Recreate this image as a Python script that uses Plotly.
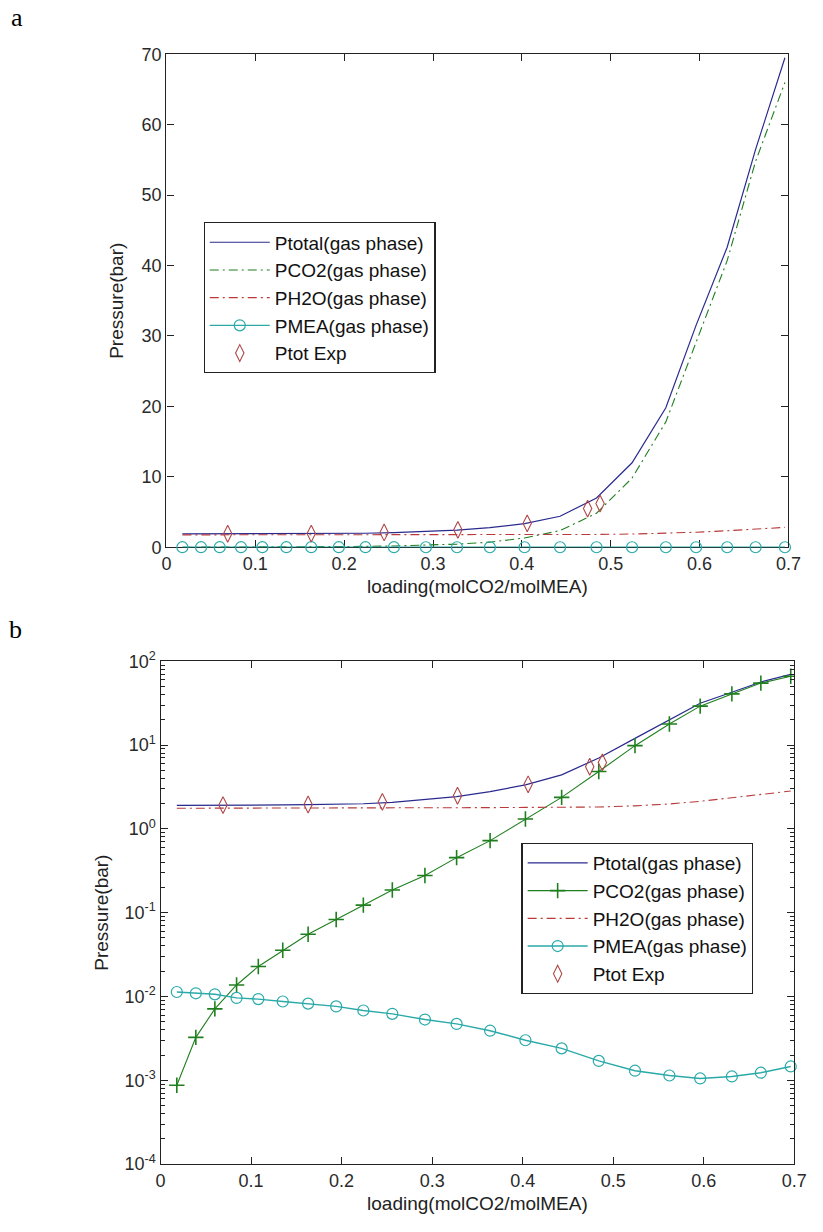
import plotly.graph_objects as go

# CO2 loading (mol CO2 / mol MEA) at which the model was evaluated
loading = [0.018, 0.039, 0.060, 0.084, 0.108, 0.135, 0.163, 0.194, 0.224, 0.256, 0.292,
           0.327, 0.364, 0.403, 0.443, 0.484, 0.524, 0.562, 0.596, 0.631, 0.663, 0.696]

# Model partial / total pressures (bar)
p_total = [1.90, 1.90, 1.91, 1.91, 1.92, 1.93, 1.94, 1.96, 1.99, 2.07, 2.22,
           2.42, 2.78, 3.35, 4.40, 7.00, 12.0, 19.8, 31.5, 42.6, 56.5, 69.5]
p_co2 = [0.00087, 0.00325, 0.0071, 0.0137, 0.0228, 0.0356, 0.0552, 0.0828, 0.123, 0.186, 0.277,
         0.453, 0.723, 1.31, 2.37, 4.83, 9.82, 17.8, 29.1, 40.7, 54.8, 66.0]
p_h2o = [1.76, 1.76, 1.76, 1.76, 1.76, 1.77, 1.77, 1.77, 1.78, 1.78, 1.78,
         1.79, 1.79, 1.80, 1.80, 1.82, 1.88, 1.98, 2.13, 2.35, 2.58, 2.82]
p_mea = [0.0113, 0.0109, 0.0106, 0.0096, 0.0093, 0.0087, 0.0082, 0.0076, 0.0068, 0.0062, 0.0053,
         0.0047, 0.0039, 0.0030, 0.0024, 0.0017, 0.0013, 0.00114, 0.00105, 0.00111, 0.00123, 0.00146]

# Experimental total pressure
exp_loading = [0.069, 0.163, 0.245, 0.328, 0.406, 0.474, 0.488]
exp_ptot = [1.92, 1.95, 2.10, 2.48, 3.40, 5.50, 6.20]

x_ticks = [0, 0.1, 0.2, 0.3, 0.4, 0.5, 0.6, 0.7]
x_ticktext = ["0", "0.1", "0.2", "0.3", "0.4", "0.5", "0.6", "0.7"]

# decade ticks of the log panel
log_exponents = [-4, -3, -2, -1, 0, 1, 2]
log_tickvals = [10.0 ** e for e in log_exponents]
log_ticktext = ["10<sup>%d</sup>" % e for e in log_exponents]
log_minor = [m * 10.0 ** e for e in log_exponents[:-1] for m in range(2, 10)]

names = ["Ptotal(gas phase)", "PCO2(gas phase)", "PH2O(gas phase)", "PMEA(gas phase)", "Ptot Exp"]

C_TOT = "#2a2a8e"
C_CO2 = "#1f7f1f"
C_H2O = "#b83a3a"
C_MEA = "#2aa9a9"
C_EXP = "#b04848"
DASHDOT = "9px,4px,2px,4px"
FONT = "Liberation Sans, Arial, sans-serif"

fig = go.Figure()


def add_panel(xa, ya, leg, co2_markers):
    fig.add_trace(go.Scatter(x=loading, y=p_total, name=names[0], mode="lines",
                             line=dict(color=C_TOT, width=1.2), legend=leg, legendgroup=leg + "1",
                             xaxis=xa, yaxis=ya))
    if co2_markers:
        fig.add_trace(go.Scatter(x=loading, y=p_co2, name=names[1], mode="lines+markers",
                                 line=dict(color=C_CO2, width=1.1),
                                 marker=dict(symbol="cross-thin-open", size=11, color=C_CO2,
                                             line=dict(width=1.6)),
                                 legend=leg, legendgroup=leg + "2", xaxis=xa, yaxis=ya))
    else:
        fig.add_trace(go.Scatter(x=loading, y=p_co2, name=names[1], mode="lines",
                                 line=dict(color=C_CO2, width=1.1, dash=DASHDOT),
                                 legend=leg, legendgroup=leg + "2", xaxis=xa, yaxis=ya))
    fig.add_trace(go.Scatter(x=loading, y=p_h2o, name=names[2], mode="lines",
                             line=dict(color=C_H2O, width=1.1, dash=DASHDOT),
                             legend=leg, legendgroup=leg + "3", xaxis=xa, yaxis=ya))
    fig.add_trace(go.Scatter(x=loading, y=p_mea, name=names[3], mode="lines+markers",
                             line=dict(color=C_MEA, width=1.4), cliponaxis=False,
                             marker=dict(symbol="circle-open", size=11, color=C_MEA, line=dict(width=1.2)),
                             legend=leg, legendgroup=leg + "4", xaxis=xa, yaxis=ya))
    fig.add_trace(go.Scatter(x=exp_loading, y=exp_ptot, name=names[4], mode="markers",
                             marker=dict(symbol="diamond-tall-open", size=12, color=C_EXP,
                                         line=dict(width=1.1)),
                             legend=leg, legendgroup=leg + "5", xaxis=xa, yaxis=ya))


# panel a: linear scale, panel b: log scale
add_panel("x", "y", "legend", False)
add_panel("x2", "y2", "legend2", True)

W, H = 823, 1232

axis_common = dict(showline=True, linecolor="#222", linewidth=1.4, mirror="ticks",
                   ticks="inside", ticklen=7, tickwidth=1.2, tickcolor="#222",
                   showgrid=False, zeroline=False,
                   tickfont=dict(family=FONT, size=18, color="#2a2a2a"))

legend_common = dict(bgcolor="white", bordercolor="#222", borderwidth=1.2,
                     font=dict(family=FONT, size=19, color="#111"),
                     tracegroupgap=0, xanchor="left", yanchor="top", itemwidth=60)

title_font = dict(family=FONT, size=19, color="#222")
serif = dict(family="Liberation Serif, Times New Roman, serif", size=26, color="#000")

fig.update_layout(
    width=W, height=H, margin=dict(l=0, r=0, t=0, b=0),
    paper_bgcolor="white", plot_bgcolor="white",
    font=dict(family=FONT, size=17, color="#222"),
    xaxis=dict(domain=[165 / W, 801 / W], anchor="y", range=[0, 0.7], layer="below traces",
               tickvals=x_ticks, ticktext=x_ticktext,
               title=dict(text="loading(molCO2/molMEA)", standoff=6, font=title_font), **axis_common),
    yaxis=dict(domain=[1 - 545 / H, 1 - 43 / H], anchor="x", range=[0, 70], dtick=10,
               title=dict(text="Pressure(bar)", standoff=12, font=title_font), **axis_common),
    xaxis2=dict(domain=[159 / W, 807 / W], anchor="y2", range=[0, 0.7],
                tickvals=x_ticks, ticktext=x_ticktext,
                title=dict(text="loading(molCO2/molMEA)", standoff=6, font=title_font), **axis_common),
    yaxis2=dict(domain=[1 - 1173 / H, 1 - 661 / H], anchor="x2", type="log", range=[-4, 2],
                tickvals=log_tickvals, ticktext=log_ticktext,
                minor=dict(ticks="inside", ticklen=4, tickwidth=1, tickcolor="#222",
                           tickmode="array", tickvals=log_minor, showgrid=False),
                title=dict(text="Pressure(bar)", standoff=10, font=title_font), **axis_common),
    legend=dict(x=203 / W, y=1 - 214 / H, **legend_common),
    legend2=dict(x=528 / W, y=1 - 846 / H, **legend_common),
    annotations=[
        dict(text="a", x=4 / W, y=1 - 6 / H, xref="paper", yref="paper", xanchor="left",
             yanchor="middle", showarrow=False, font=serif),
        dict(text="b", x=2 / W, y=1 - 629 / H, xref="paper", yref="paper", xanchor="left",
             yanchor="middle", showarrow=False, font=serif),
    ],
)

fig.write_html("out.html")
